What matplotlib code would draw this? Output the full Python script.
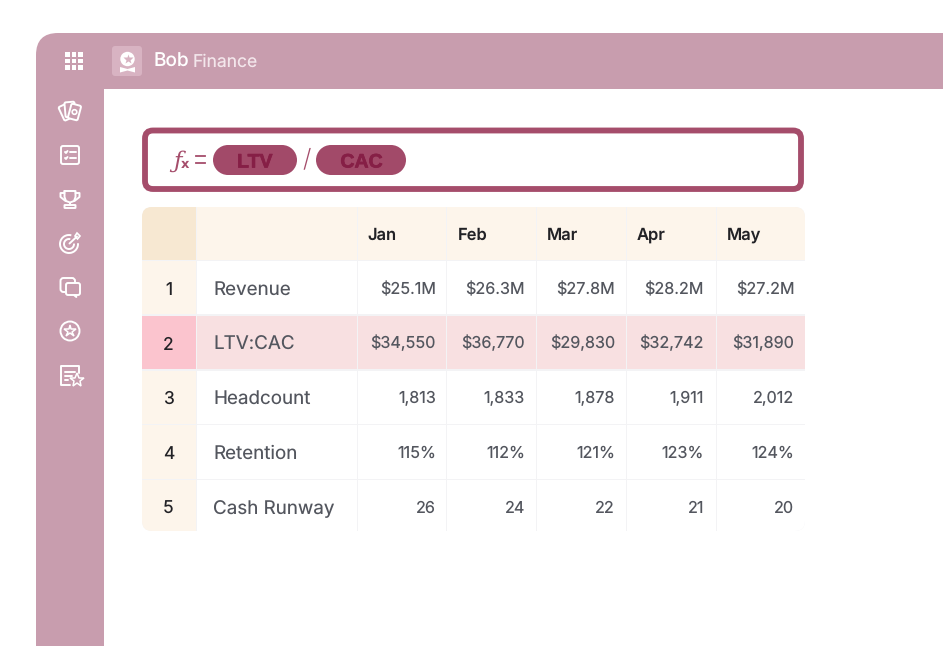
import matplotlib
matplotlib.use("Agg")
import matplotlib.pyplot as plt
import matplotlib.patheffects as pe
from matplotlib.patches import FancyBboxPatch, Rectangle, Circle, Polygon, Arc
from matplotlib.transforms import Affine2D

# table content
months = ["Jan", "Feb", "Mar", "Apr", "May"]
row_ids = ["1", "2", "3", "4", "5"]
row_names = ["Revenue", "LTV:CAC", "Headcount", "Retention", "Cash Runway"]
revenue = ["$25.1M", "$26.3M", "$27.8M", "$28.2M", "$27.2M"]
ltv_cac = ["$34,550", "$36,770", "$29,830", "$32,742", "$31,890"]
headcount = ["1,813", "1,833", "1,878", "1,911", "2,012"]
retention = ["115%", "112%", "121%", "123%", "124%"]
runway = ["26", "24", "22", "21", "20"]
rows = [revenue, ltv_cac, headcount, retention, runway]

MAUVE = "#C89DAE"
BERRY = "#A54D6B"
CREAM = "#FDF5EB"
CORNER = "#F7E8D2"
PINK = "#F8E0E1"
PINK_ID = "#FBC4CE"
GREY = "#53565E"
DARK = "#222226"
LINE = "#F3F3F5"
FONT = "Inter"

plt.rcParams["text.hinting"] = "no_hinting"
plt.rcParams["text.hinting_factor"] = 1

W, H = 943, 646
fig = plt.figure(figsize=(W / 100, H / 100), dpi=100, facecolor="white")
ax = fig.add_axes([0, 0, 1, 1])
ax.set_xlim(0, W)
ax.set_ylim(H, 0)
ax.axis("off")


def rbox(x0, y0, x1, y1, r, **kw):
    p = FancyBboxPatch((x0 + r, y0 + r), x1 - x0 - 2 * r, y1 - y0 - 2 * r,
                       boxstyle=f"round,pad={r},rounding_size={r}", **kw)
    ax.add_patch(p)
    return p


def pill(x0, x1, y0, y1, color):
    r = (y1 - y0) / 2
    ax.add_patch(Rectangle((x0 + r, y0), x1 - x0 - 2 * r, y1 - y0, fc=color, ec="none", zorder=4))
    ax.add_patch(Circle((x0 + r, y0 + r), r, fc=color, ec="none", zorder=4))
    ax.add_patch(Circle((x1 - r, y0 + r), r, fc=color, ec="none", zorder=4))


def px(size):
    # font size given in pixels
    return size * 0.72


# app frame
rbox(36, 33, 1000, 700, 22, fc=MAUVE, ec="none", zorder=1)
ax.add_patch(Rectangle((104, 89), 900, 600, fc="white", ec="none", zorder=2))

# apps grid
for gx in (67.5, 74, 80.5):
    for gy in (54.5, 61, 67.5):
        ax.add_patch(Rectangle((gx - 2.4, gy - 2.4), 4.8, 4.8, fc="white", ec="none", zorder=3))

# logo
rbox(112, 46, 142, 76, 3, fc="#D8B3C2", ec="none", zorder=3)
ax.add_patch(Circle((127.5, 59), 7.2, fc="white", ec="none", zorder=4))
ax.plot([127.5], [58.5], marker="*", ms=7, color="#D8B3C2", mec="none", zorder=5)
ax.add_patch(Polygon([(120, 67), (127.5, 69), (135, 67), (135, 72.5), (127.5, 70.5), (120, 72.5)],
                     fc="white", ec="none", zorder=4))
ax.text(153.2, 66.5, "Bob", color="white", fontsize=px(19), family=FONT, weight="medium", zorder=5)
ax.text(192.5, 66.5, "Finance", color="#F3E6EB", fontsize=px(17.5), family=FONT, zorder=5)

# sidebar icons
ICON = dict(color="white", lw=1.4, solid_capstyle="round", zorder=5)


def outline(**kw):
    d = dict(fc="none", ec="white", lw=1.4, zorder=5)
    d.update(kw)
    return d


def card(cx, cy, angle, z):
    p = FancyBboxPatch((cx - 5, cy - 7.5), 10, 15, boxstyle="round,pad=0,rounding_size=1.5",
                       fc=MAUVE, ec="white", lw=1.4, zorder=z,
                       transform=Affine2D().rotate_deg_around(cx, cy, angle) + ax.transData)
    ax.add_patch(p)


card(66, 112, -25, 5)
card(70, 109.5, -5, 5.1)
card(74.5, 112, 15, 5.2)
ax.add_patch(Circle((74.5, 112), 2.3, **outline(lw=1.2, zorder=6)))

rbox(61, 146, 79, 164, 2, **outline())
for ly in (152, 158):
    ax.plot([65, 66, 67.5], [ly, ly + 1, ly - 1], **ICON)
    ax.plot([70, 76], [ly, ly], **ICON)

# trophy
ax.plot([64.5, 64.5, 66, 70, 74, 75.5, 75.5, 64.5], [191, 197, 201, 202.5, 201, 197, 191, 191], **ICON)
ax.plot([64.5, 60.5, 60.5, 65.5], [193, 193, 197, 201], **ICON)
ax.plot([75.5, 79.5, 79.5, 74.5], [193, 193, 197, 201], **ICON)
ax.plot([70, 70], [203, 205], **ICON)
rbox(64.5, 205, 75.5, 208, 0.5, **outline())

# target
ARC = dict(ec="white", lw=1.4, zorder=5)
ax.add_patch(Arc((69, 244), 18, 18, theta1=-5, theta2=285, **ARC))
ax.add_patch(Arc((69, 244), 10, 10, theta1=-5, theta2=285, **ARC))
ax.plot([69.5, 77], [243.5, 236.5], **ICON)
ax.add_patch(Polygon([(75, 236), (77, 233), (80, 236), (77.5, 239)], **outline(lw=1.2)))

# chat bubbles
rbox(60.5, 278, 75, 292, 3, **outline())
rbox(66, 283, 80, 295, 2, fc=MAUVE, ec="white", lw=1.4, zorder=6)
ax.add_patch(Polygon([(73.5, 295), (76.5, 297.5), (76.5, 295)], fc="white", ec="white", lw=1, zorder=7))

# badge with star
ax.add_patch(Circle((70, 331), 9.5, **outline()))
ax.plot([70], [331], marker="*", ms=9, mfc="none", mec="white", mew=1.1, zorder=6)

# note with star
ax.plot([70, 61, 61, 78.5, 78.5], [384.5, 384.5, 366, 366, 373], **ICON)
ax.plot([64.5, 74.5], [371.5, 371.5], **ICON)
ax.plot([64.5, 72], [375.5, 375.5], **ICON)
ax.plot([64.5, 68], [379.5, 379.5], **ICON)
ax.plot([76.5], [380], marker="*", ms=10, mfc=MAUVE, mec="white", mew=1.1, zorder=6)

# formula bar
rbox(145, 130.5, 801, 189, 8, fc="white", ec=BERRY, lw=4.2, zorder=3)
ax.text(177, 161, "ƒ", color=BERRY, fontsize=px(23), family="DejaVu Serif", style="italic",
        ha="center", va="center", zorder=5)
ax.text(184.5, 164, "x", color=BERRY, fontsize=px(13), family="DejaVu Sans", weight="bold",
        ha="center", va="center", zorder=5)
ax.plot([195.5, 204.5], [156, 156], color=BERRY, lw=1.3, zorder=5)
ax.plot([195.5, 204.5], [162.5, 162.5], color=BERRY, lw=1.3, zorder=5)
pill(213, 297, 145, 175, "#A24A69")
pill(316, 406, 145, 175, "#A24A69")
bold = [pe.withStroke(linewidth=0.5, foreground="#861F46")]
ax.text(254.5, 167.5, "LTV", color="#861F46", fontsize=px(19.5), family="Liberation Sans", weight="bold",
        ha="center", zorder=5, path_effects=bold)
ax.text(361, 167.5, "CAC", color="#861F46", fontsize=px(19.5), family="Liberation Sans", weight="bold",
        ha="center", zorder=5, path_effects=bold)
ax.text(306.5, 160, "/", color=BERRY, fontsize=px(25), family=FONT, weight="light",
        ha="center", va="center", zorder=5)

# table geometry
col_edges = [(358, 445.5), (447, 535.5), (537, 625.5), (627, 715.5), (717, 805)]
row_edges = [(261, 314), (316, 369), (370.5, 423.5), (425, 478.5), (480, 531)]
baseline = [294, 348.5, 403, 458, 513]
name_baseline = [295, 349.5, 405, 459, 514]
value_right = [436, 525, 615, 704, 794.5]
month_left = [367.5, 457.5, 547, 637, 727]

table_clip = rbox(142, 207, 805, 531, 10, fc="white", ec="none", zorder=2.5)


def cell(x0, y0, x1, y1, color):
    c = Rectangle((x0, y0), x1 - x0, y1 - y0, fc=color, ec="none", zorder=3)
    ax.add_patch(c)
    c.set_clip_path(table_clip)


# grid lines sit under the cells
cell(142, 207, 805, 531, LINE)

cell(142, 207, 195.5, 260, CORNER)
cell(197, 207, 356.5, 260, CREAM)
for (x0, x1), m, mx in zip(col_edges, months, month_left):
    cell(x0, 207, x1, 260, CREAM)
    ax.text(mx, 239.5, m, color=DARK, fontsize=px(16.5), family=FONT, weight="semibold", zorder=5)

for i, (y0, y1) in enumerate(row_edges):
    hl = i == 1
    cell(142, y0, 195.5, y1, PINK_ID if hl else CREAM)
    cell(197, y0, 356.5, y1, PINK if hl else "white")
    ax.text(168.5, baseline[i] + 1, row_ids[i], color=DARK, fontsize=px(17.5), family=FONT,
            ha="center", zorder=5)
    ax.text(213.4, name_baseline[i], row_names[i], color=GREY, fontsize=px(18.8), family=FONT, zorder=5)
    for (x0, x1), val, vx in zip(col_edges, rows[i], value_right):
        cell(x0, y0, x1, y1, PINK if hl else "white")
        ax.text(vx, baseline[i], val, color=GREY, fontsize=px(16.2), family=FONT,
                ha="right", zorder=5)

fig.savefig("out.png", dpi=100)
